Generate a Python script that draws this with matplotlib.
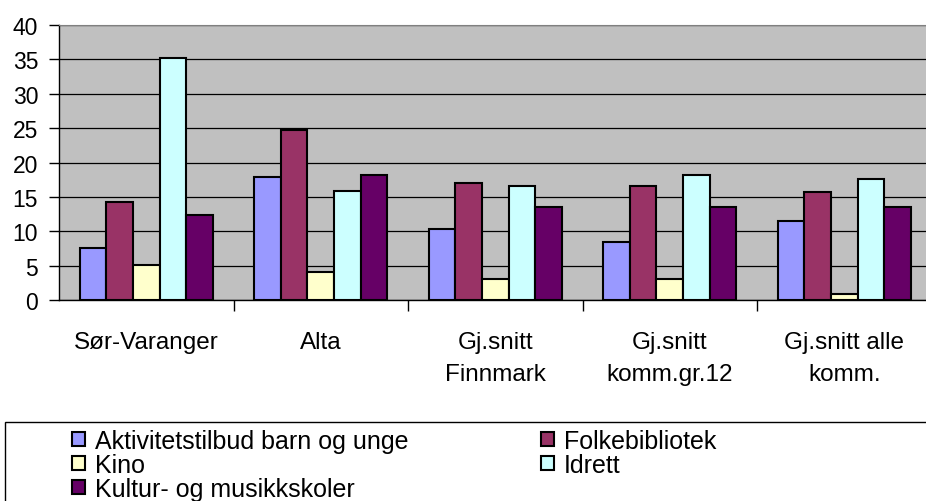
import matplotlib.pyplot as plt
from matplotlib.patches import Rectangle
import numpy as np

plt.rcParams['font.family'] = ['Liberation Sans', 'DejaVu Sans']

kategorier = ['Sør-Varanger', 'Alta', 'Gj.snitt\nFinnmark', 'Gj.snitt\nkomm.gr.12', 'Gj.snitt alle\nkomm.']
serier = ['Aktivitetstilbud barn og unge', 'Folkebibliotek', 'Kino', 'Idrett', 'Kultur- og musikkskoler']
aktivitet = [7.5, 17.9, 10.3, 8.5, 11.5]
folkebibliotek = [14.2, 24.8, 17.0, 16.6, 15.7]
kino = [5.1, 4.1, 3.0, 3.0, 0.9]
idrett = [35.2, 15.8, 16.6, 18.2, 17.6]
kultur = [12.4, 18.2, 13.6, 13.6, 13.6]
farger = ['#9999FF', '#993366', '#FFFFCC', '#CCFFFF', '#660066']

W, H = 926, 502
fig = plt.figure(figsize=(W / 100, H / 100), dpi=100)
ax = fig.add_axes([59 / W, 1 - 301 / H, 872.5 / W, 275 / H])
ax.set_facecolor('#C0C0C0')

verdier = [aktivitet, folkebibliotek, kino, idrett, kultur]
x = np.arange(len(kategorier))
bw = 0.152
stolper = []
for i, (v, c) in enumerate(zip(verdier, farger)):
    b = ax.bar(x + (i - 2) * bw, v, bw, color=c, edgecolor='black', linewidth=1.5,
               label=serier[i], zorder=3)
    stolper.append(b)

ax.set_xlim(-0.5, len(kategorier) - 0.5)
ax.set_ylim(0, 40)
ax.set_yticks(range(0, 41, 5))
ax.yaxis.grid(True, color='black', linewidth=0.9)
ax.set_axisbelow(True)
ax.tick_params(axis='y', labelsize=16.5, length=7, width=1, direction='out', pad=8)

ax.set_xticks(x)
ax.set_xticklabels(kategorier, fontsize=17.5, linespacing=1.6)
ax.tick_params(axis='x', length=0, pad=22)
ax.set_xticks(np.arange(0.5, len(kategorier) - 0.5), minor=True)
ax.tick_params(axis='x', which='minor', length=8, width=1, direction='out')

ax.spines['right'].set_visible(False)
ax.spines['top'].set_color('#808080')
ax.spines['left'].set_linewidth(1)
ax.spines['bottom'].set_linewidth(1)

# legend box
fig.patches.append(Rectangle((5 / W, -0.05), 1.0, 1 - 423 / H + 0.05, transform=fig.transFigure,
                             facecolor='white', edgecolor='black', linewidth=1))
rekkefolge = [0, 2, 4, 1, 3]
leg = fig.legend([stolper[i] for i in rekkefolge], [serier[i] for i in rekkefolge],
                 loc='upper left', bbox_to_anchor=(72 / W, 1 - 430 / H), ncol=2,
                 frameon=False, fontsize=18, handlelength=0.52, handleheight=0.52,
                 handletextpad=0.4, labelspacing=0.0, columnspacing=5.3, borderpad=0,
                 borderaxespad=0)

fig.savefig('out.png', dpi=100)
